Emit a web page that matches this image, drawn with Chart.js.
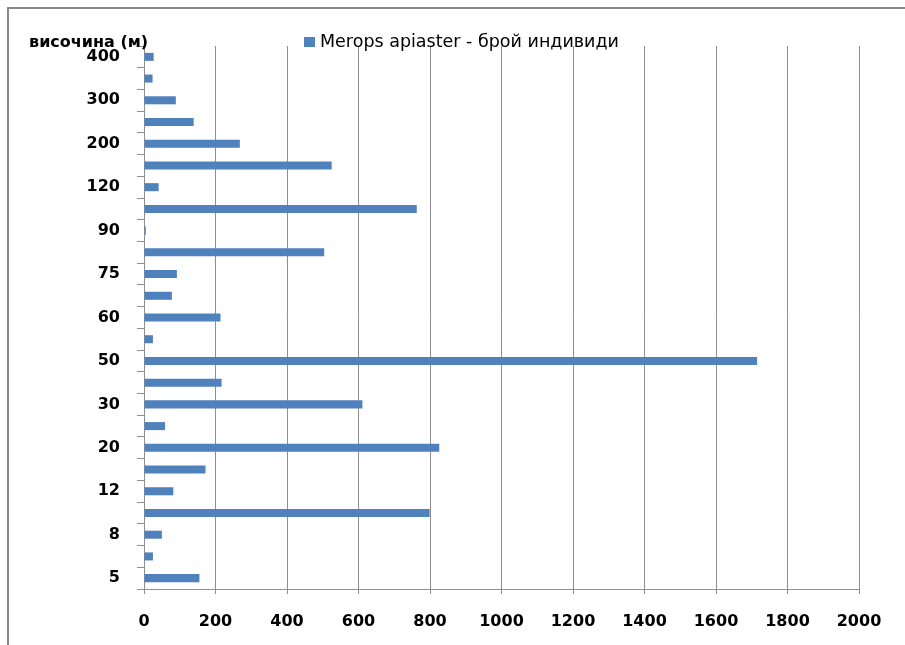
<!DOCTYPE html>
<html lang="bg">
<head>
  <meta charset="UTF-8">
  <title>Merops apiaster - височина</title>
  <script src="https://cdn.jsdelivr.net/npm/chart.js"></script>
  <style>
    body { margin: 0; background: #fff; }
    #frame { position: absolute; left: 7px; top: 7px; width: 896px; height: 660px;
             border-left: 2px solid #8a8a8a; border-top: 2px solid #8a8a8a; border-right: 1px solid #c8c8c8; }
    #chart { position: absolute; left: 0; top: 0; }
  </style>
</head>
<body>
  <div id="frame"></div>
  <canvas id="chart" width="905" height="645"></canvas>

  <script>
    // височина (м), отдолу нагоре
    const heights = ['5', '6', '8', '10', '12', '15', '20', '25', '30', '40', '50', '55', '60',
                     '70', '75', '80', '90', '100', '120', '150', '200', '250', '300', '350', '400'];
    // брой индивиди
    const counts = [155, 25, 50, 799, 82, 172, 826, 59, 611, 217, 1715, 25, 214,
                    78, 92, 504, 5, 763, 41, 525, 268, 139, 89, 24, 27];
    const seriesName = 'Merops apiaster - брой индивиди';
    const axisTitle = 'височина (м)';

    const FONT = 'DejaVu Sans';
    const BLUE = '#4f81bd';
    const GRID = '#8e8e8e';

    // легенда и заглавие на оста, рисувани на ръка (застъпват горния ред)
    const headerPlugin = {
      id: 'header',
      afterDraw(chart) {
        const ctx = chart.ctx;
        ctx.save();
        ctx.fillStyle = '#000';
        ctx.textBaseline = 'middle';
        ctx.font = 'bold 16px "' + FONT + '"';
        ctx.fillText(axisTitle, 29, 43);

        ctx.fillStyle = BLUE;
        ctx.fillRect(304, 37, 11, 10);
        ctx.fillStyle = '#000';
        ctx.font = '17.5px "' + FONT + '"';
        ctx.fillText(seriesName, 320, 42);
        ctx.restore();
      }
    };

    new Chart(document.getElementById('chart'), {
      type: 'bar',
      data: {
        labels: heights,
        datasets: [{
          label: seriesName,
          data: counts,
          backgroundColor: BLUE,
          borderWidth: 0,
          barPercentage: 0.37,
          categoryPercentage: 1
        }]
      },
      options: {
        indexAxis: 'y',
        responsive: false,
        animation: false,
        layout: { padding: { top: 46, right: 46, left: 0, bottom: 0 } },
        plugins: {
          legend: { display: false },
          tooltip: { enabled: false }
        },
        scales: {
          x: {
            min: 0,
            max: 2000,
            ticks: {
              stepSize: 200,
              color: '#000',
              padding: 18,
              font: { family: FONT, size: 16, weight: 'bold' },
              callback: (v) => String(v)
            },
            grid: { color: GRID, tickLength: 5 },
            border: { color: GRID },
            afterFit(scale) { scale.height = 56; }
          },
          y: {
            reverse: true,
            ticks: {
              autoSkip: false,
              color: '#000',
              padding: 17,
              font: { family: FONT, size: 16, weight: 'bold' },
              callback(value, index) { return index % 2 === 0 ? heights[index] : ''; }
            },
            grid: { color: GRID, drawOnChartArea: false, tickLength: 7, offset: true },
            border: { color: GRID },
            afterFit(scale) { scale.width = 144; }
          }
        }
      },
      plugins: [headerPlugin]
    });
  </script>
</body>
</html>
